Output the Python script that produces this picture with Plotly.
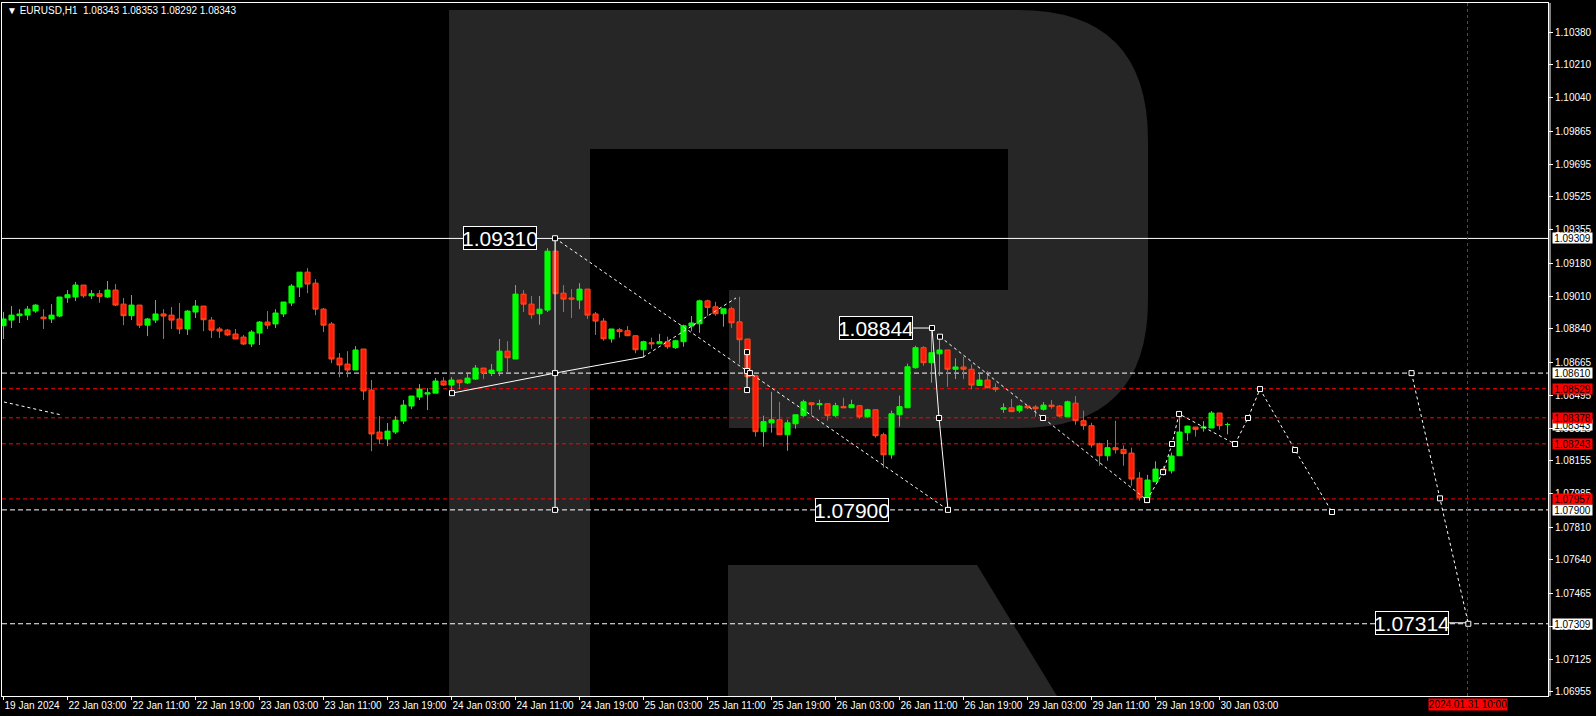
import plotly.graph_objects as go

# ---------------- data ----------------
BARS = list(range(154))  # H1 bars from 19 Jan 2024 19:00 to 30 Jan 2024 04:00

OPEN = [1.08856,1.08885,1.08908,1.08911,1.08932,1.08901,1.08891,1.08906,1.09001,1.09005,
        1.09067,1.09011,1.09022,1.09005,1.09041,1.08968,1.08908,1.08963,1.08859,1.08885,
        1.08917,1.08911,1.08891,1.08839,1.08927,1.08958,1.08885,1.08839,1.08833,1.08813,
        1.08797,1.08761,1.08818,1.08875,1.08865,1.08917,1.08974,1.09057,1.09134,1.09077,
        1.08942,1.08865,1.08688,1.08657,1.08626,1.08735,1.08522,1.08304,1.08268,1.08304,
        1.08361,1.08439,1.08486,1.08501,1.08506,1.08569,1.08548,1.08574,1.08559,1.08579,
        1.08636,1.08610,1.08621,1.08724,1.08683,1.09020,1.08968,1.08918,1.08937,1.09243,
        1.09025,1.09000,1.08989,1.09046,1.08917,1.08880,1.08788,1.08835,1.08830,1.08804,
        1.08731,1.08768,1.08762,1.08773,1.08742,1.08773,1.08854,1.08866,1.08985,1.08954,
        1.08918,1.08944,1.08876,1.08787,1.08596,1.08306,1.08352,1.08368,1.08290,1.08347,
        1.08389,1.08456,1.08446,1.08451,1.08389,1.08436,1.08430,1.08441,1.08383,1.08420,
        1.08290,1.08186,1.08394,1.08430,1.08638,1.08742,1.08664,1.08710,1.08730,1.08630,
        1.08642,1.08630,1.08546,1.08574,1.08534,1.08422,1.08430,1.08415,1.08439,1.08434,
        1.08422,1.08444,1.08439,1.08383,1.08454,1.08363,1.08337,1.08243,1.08181,1.08223,
        1.08214,1.08195,1.08065,1.07963,1.08046,1.08112,1.08103,1.08181,1.08301,1.08330,
        1.08325,1.08325,1.08403,1.08343]
HIGH = [1.08928,1.08958,1.08942,1.08958,1.08968,1.08942,1.08968,1.09005,1.09041,1.09083,
        1.09067,1.09041,1.09041,1.09088,1.09072,1.09000,1.09015,1.08963,1.08896,1.08989,
        1.08942,1.08953,1.08974,1.08937,1.08989,1.08958,1.08901,1.08849,1.08839,1.08839,
        1.08808,1.08833,1.08880,1.08932,1.08942,1.08979,1.09072,1.09134,1.09155,1.09098,
        1.08948,1.08875,1.08714,1.08724,1.08750,1.08735,1.08574,1.08387,1.08351,1.08387,
        1.08470,1.08491,1.08553,1.08532,1.08584,1.08589,1.08589,1.08574,1.08605,1.08652,
        1.08636,1.08657,1.08787,1.08776,1.09067,1.09041,1.09010,1.09010,1.09259,1.09310,
        1.09067,1.09046,1.09077,1.09046,1.08927,1.08896,1.08839,1.08845,1.08854,1.08804,
        1.08778,1.08794,1.08814,1.08799,1.08783,1.08861,1.08906,1.08991,1.08991,1.08980,
        1.08944,1.08954,1.09006,1.08787,1.08596,1.08389,1.08513,1.08461,1.08368,1.08394,
        1.08472,1.08456,1.08472,1.08451,1.08456,1.08482,1.08472,1.08441,1.08425,1.08420,
        1.08301,1.08415,1.08493,1.08659,1.08752,1.08750,1.08844,1.08799,1.08730,1.08687,
        1.08695,1.08655,1.08609,1.08621,1.08557,1.08453,1.08476,1.08444,1.08439,1.08444,
        1.08460,1.08470,1.08444,1.08467,1.08491,1.08415,1.08352,1.08249,1.08263,1.08363,
        1.08235,1.08223,1.08096,1.08082,1.08152,1.08127,1.08197,1.08389,1.08337,1.08330,
        1.08361,1.08413,1.08403,1.08353]
LOW = [1.08787,1.08844,1.08870,1.08885,1.08923,1.08839,1.08870,1.08901,1.08975,1.08984,
       1.09001,1.08994,1.08975,1.09001,1.08958,1.08859,1.08885,1.08844,1.08802,1.08870,
       1.08787,1.08839,1.08813,1.08808,1.08896,1.08828,1.08792,1.08792,1.08802,1.08787,
       1.08756,1.08745,1.08756,1.08839,1.08844,1.08901,1.08958,1.09005,1.09025,1.08911,
       1.08823,1.08662,1.08589,1.08589,1.08626,1.08470,1.08205,1.08242,1.08231,1.08294,
       1.08346,1.08423,1.08470,1.08418,1.08506,1.08543,1.08506,1.08527,1.08553,1.08574,
       1.08579,1.08595,1.08595,1.08615,1.08683,1.08927,1.08892,1.08861,1.08927,1.09022,
       1.08927,1.08896,1.08942,1.08891,1.08808,1.08778,1.08768,1.08794,1.08804,1.08713,
       1.08692,1.08736,1.08762,1.08736,1.08736,1.08747,1.08828,1.08819,1.08908,1.08908,
       1.08851,1.08845,1.08659,1.08585,1.08280,1.08228,1.08301,1.08290,1.08207,1.08321,
       1.08383,1.08394,1.08420,1.08363,1.08383,1.08430,1.08430,1.08373,1.08378,1.08275,
       1.08119,1.08166,1.08332,1.08430,1.08633,1.08648,1.08560,1.08595,1.08539,1.08579,
       1.08579,1.08526,1.08543,1.08531,1.08513,1.08404,1.08410,1.08404,1.08423,1.08383,
       1.08415,1.08425,1.08383,1.08383,1.08342,1.08316,1.08223,1.08129,1.08155,1.08192,
       1.08129,1.08025,1.07948,1.07948,1.08046,1.08077,1.08089,1.08181,1.08259,1.08280,
       1.08306,1.08325,1.08316,1.08292]
CLOSE = [1.08891,1.08911,1.08917,1.08942,1.08963,1.08892,1.08911,1.09005,1.09017,1.09067,
         1.09011,1.09022,1.09008,1.09041,1.08963,1.08908,1.08963,1.08859,1.08891,1.08917,
         1.08906,1.08885,1.08839,1.08932,1.08958,1.08887,1.08833,1.08828,1.08808,1.08787,
         1.08761,1.08823,1.08875,1.08859,1.08922,1.08979,1.09062,1.09134,1.09072,1.08942,
         1.08859,1.08683,1.08652,1.08626,1.08730,1.08517,1.08294,1.08268,1.08309,1.08366,
         1.08444,1.08491,1.08527,1.08508,1.08569,1.08548,1.08574,1.08560,1.08584,1.08636,
         1.08610,1.08626,1.08724,1.08690,1.09020,1.08968,1.08913,1.08942,1.09243,1.09022,
         1.08994,1.08994,1.09046,1.08911,1.08880,1.08788,1.08839,1.08825,1.08804,1.08731,
         1.08773,1.08762,1.08773,1.08747,1.08778,1.08856,1.08870,1.08985,1.08951,1.08918,
         1.08944,1.08871,1.08783,1.08591,1.08306,1.08358,1.08368,1.08290,1.08352,1.08394,
         1.08461,1.08446,1.08451,1.08389,1.08441,1.08430,1.08446,1.08383,1.08420,1.08285,
         1.08186,1.08399,1.08436,1.08643,1.08742,1.08664,1.08716,1.08730,1.08630,1.08642,
         1.08630,1.08548,1.08574,1.08534,1.08526,1.08430,1.08410,1.08439,1.08430,1.08425,
         1.08444,1.08436,1.08387,1.08461,1.08363,1.08337,1.08237,1.08181,1.08223,1.08212,
         1.08192,1.08060,1.07963,1.08055,1.08112,1.08103,1.08180,1.08304,1.08335,1.08318,
         1.08330,1.08403,1.08337,1.08343]

TIME_TICK_BARS = [0, 8, 16, 24, 32, 40, 48, 56, 64, 72, 80, 88, 96, 104, 112, 120, 128, 136, 144, 152]
TIME_TICK_TEXT = ["19 Jan 2024", "22 Jan 03:00", "22 Jan 11:00", "22 Jan 19:00", "23 Jan 03:00",
                  "23 Jan 11:00", "23 Jan 19:00", "24 Jan 03:00", "24 Jan 11:00", "24 Jan 19:00",
                  "25 Jan 03:00", "25 Jan 11:00", "25 Jan 19:00", "26 Jan 03:00", "26 Jan 11:00",
                  "26 Jan 19:00", "29 Jan 03:00", "29 Jan 11:00", "29 Jan 19:00", "30 Jan 03:00"]

PRICE_TICKS = [1.10380, 1.10210, 1.10040, 1.09865, 1.09695, 1.09525, 1.09355, 1.09180, 1.09010,
               1.08840, 1.08665, 1.08495, 1.08325, 1.08155, 1.07985, 1.07810, 1.07640, 1.07465,
               1.07295, 1.07125, 1.06955]

# horizontal levels
LEVEL_WHITE_SOLID = [1.09309]
LEVEL_WHITE_DASH = [1.08610, 1.07900, 1.07309]
LEVEL_RED_DASH = [1.08529, 1.08378, 1.08243, 1.07957]
AXIS_BOXES_WHITE = [1.09309, 1.08610, 1.08343, 1.07900, 1.07309]
AXIS_BOXES_RED = [1.08529, 1.08378, 1.08243, 1.07957]
FORECAST_TIME_BAR = 183
FORECAST_TIME_TEXT = "2024.01.31 10:00"

# analysis drawings (bar index, price)
LEFT_DOT_X = [0.06, 7.2]
LEFT_DOT_Y = [1.08460, 1.08393]
RISE_X = [56.06, 68.94, 79.94]
RISE_Y = [1.08506, 1.08610, 1.08693]
RISE_DOT_X = [79.94, 91.56]
RISE_DOT_Y = [1.08693, 1.09000]
VERT1_X = [68.94, 68.94, 68.94]
VERT1_Y = [1.09310, 1.08610, 1.07900]
FALL_DOT_X = [68.94, 93.3, 118.06]
FALL_DOT_Y = [1.09310, 1.08610, 1.07900]
VERT2_X = [92.94, 92.94, 92.94]
VERT2_Y = [1.08719, 1.08621, 1.08522]
DROP_X = [116.06, 116.94, 118.06]
DROP_Y = [1.08844, 1.08377, 1.07900]
FALL2_X = [117.06, 129.94, 142.94]
FALL2_Y = [1.08799, 1.08377, 1.07951]
REB_X = [142.94, 144.94, 146.06, 146.94, 153.94]
REB_Y = [1.07951, 1.08096, 1.08242, 1.08398, 1.08242]
FC1_X = [153.94, 155.56, 157.06, 161.44, 166.06]
FC1_Y = [1.08242, 1.08377, 1.08527, 1.08211, 1.07889]
FC2_X = [176.0, 179.56, 183.1]
FC2_Y = [1.08610, 1.07960, 1.07309]

BIG_LABELS = [("1.09310", 62.1, 1.09310), ("1.08844", 109.06, 1.08844),
              ("1.07900", 106.06, 1.07900), ("1.07314", 176.1, 1.07314)]
LABEL_LINKS = [([113.7, 116.06], [1.08844, 1.08844]), ([180.7, 183.1], [1.07314, 1.07314])]

HEADER = "\u25bc EURUSD,H1  1.08343 1.08353 1.08292 1.08343"

# ---------------- figure ----------------
W, H = 1596, 716
ML, MR, MT, MB = 2, 48, 3, 20
PW, PH = W - ML - MR, H - MT - MB
SMALL = "Liberation Sans, Arial, sans-serif"
BIG = "Liberation Sans, Arial, sans-serif"


def px(x):
    return (x - ML) / PW


def py(y):
    return 1 - (y - MT) / PH


fig = go.Figure()

fig.add_trace(go.Candlestick(
    x=BARS, open=OPEN, high=HIGH, low=LOW, close=CLOSE,
    increasing=dict(line=dict(color="#00FF00", width=1), fillcolor="#00FF00"),
    decreasing=dict(line=dict(color="#FF4A1A", width=1), fillcolor="#FF1A0A"),
    whiskerwidth=0, showlegend=False, hoverinfo="skip"))

DOT = "3px,3px"
solid_lines = [(RISE_X, RISE_Y), (VERT1_X, VERT1_Y), (VERT2_X, VERT2_Y), (DROP_X, DROP_Y)] + LABEL_LINKS
dotted_lines = [(LEFT_DOT_X, LEFT_DOT_Y), (RISE_DOT_X, RISE_DOT_Y), (FALL_DOT_X, FALL_DOT_Y),
                (FALL2_X, FALL2_Y), (REB_X, REB_Y), (FC1_X, FC1_Y), (FC2_X, FC2_Y)]
for xs, ys in solid_lines:
    fig.add_trace(go.Scatter(x=xs, y=ys, mode="lines", line=dict(color="white", width=1),
                             showlegend=False, hoverinfo="skip"))
for xs, ys in dotted_lines:
    fig.add_trace(go.Scatter(x=xs, y=ys, mode="lines", line=dict(color="white", width=1, dash=DOT),
                             showlegend=False, hoverinfo="skip"))

mk_x, mk_y = [], []
for xs, ys in [(VERT1_X, VERT1_Y), (VERT2_X, VERT2_Y), (DROP_X, DROP_Y), (FALL2_X, FALL2_Y),
               (REB_X, REB_Y), (FC1_X, FC1_Y), (FC2_X, FC2_Y), (RISE_X[:1], RISE_Y[:1]),
               (FALL_DOT_X[1:2], FALL_DOT_Y[1:2])]:
    mk_x += list(xs)
    mk_y += list(ys)
fig.add_trace(go.Scatter(x=mk_x, y=mk_y, mode="markers",
                         marker=dict(symbol="square", size=5, color="black",
                                     line=dict(color="white", width=1)),
                         showlegend=False, hoverinfo="skip"))

shapes = []
# R watermark (decoration, pixel outline mapped to paper space)
path = (f"M{px(449)},{py(10)} L{px(1018)},{py(10)} Q{px(1148)},{py(10)} {px(1148)},{py(140)} "
        f"L{px(1148)},{py(300)} Q{px(1148)},{py(428)} {px(1020)},{py(428)} L{px(729)},{py(428)} "
        f"L{px(729)},{py(290)} L{px(1008)},{py(290)} L{px(1008)},{py(149)} L{px(590)},{py(149)} "
        f"L{px(590)},{py(696)} L{px(449)},{py(696)} Z")
shapes.append(dict(type="path", xref="paper", yref="paper", path=path,
                   fillcolor="#262626", line=dict(width=0), layer="below"))
leg = (f"M{px(728)},{py(565)} L{px(977)},{py(565)} L{px(1057)},{py(696)} L{px(728)},{py(696)} Z")
shapes.append(dict(type="path", xref="paper", yref="paper", path=leg,
                   fillcolor="#262626", line=dict(width=0), layer="below"))

for v in LEVEL_WHITE_SOLID:
    shapes.append(dict(type="line", xref="paper", x0=0, x1=1, yref="y", y0=v, y1=v,
                       line=dict(color="white", width=1), layer="below"))
for v in LEVEL_WHITE_DASH:
    shapes.append(dict(type="line", xref="paper", x0=0, x1=1, yref="y", y0=v, y1=v,
                       line=dict(color="white", width=1, dash="5px,3px"), layer="below"))
for v in LEVEL_RED_DASH:
    shapes.append(dict(type="line", xref="paper", x0=0, x1=1, yref="y", y0=v, y1=v,
                       line=dict(color="#FF0000", width=1, dash="4px,3px"), layer="below"))
shapes.append(dict(type="line", xref="x", x0=FORECAST_TIME_BAR, x1=FORECAST_TIME_BAR,
                   yref="paper", y0=0, y1=1, line=dict(color="#FF0000", width=1, dash="3px,3px"),
                   layer="below"))
# second axis rule just right of the frame
shapes.append(dict(type="line", xref="paper", yref="paper",
                   x0=1 + 2 / PW, x1=1 + 2 / PW, y0=0, y1=1, line=dict(color="white", width=1)))

annotations = []
for txt, xb, yv in BIG_LABELS:
    annotations.append(dict(x=xb, y=yv, xref="x", yref="y", text=txt, showarrow=False,
                            font=dict(color="white", size=21, family=BIG),
                            bgcolor="black", bordercolor="white", borderwidth=1, borderpad=0,
                            width=72, height=22))
for v in AXIS_BOXES_WHITE:
    annotations.append(dict(x=1, y=v, xref="paper", yref="y", xanchor="left", xshift=4,
                            text=f"{v:.5f}", showarrow=False,
                            font=dict(color="black", size=10, family=SMALL),
                            bgcolor="white", borderpad=0, width=39, height=10))
for v in AXIS_BOXES_RED:
    annotations.append(dict(x=1, y=v, xref="paper", yref="y", xanchor="left", xshift=4,
                            text=f"{v:.5f}", showarrow=False,
                            font=dict(color="black", size=10, family=SMALL),
                            bgcolor="#FF0000", borderpad=0, width=39, height=10))
annotations.append(dict(x=FORECAST_TIME_BAR, y=0, xref="x", yref="paper", yanchor="top", yshift=-2,
                        text=FORECAST_TIME_TEXT, showarrow=False,
                        font=dict(color="black", size=10, family=SMALL),
                        bgcolor="#FF0000", borderpad=0, width=78, height=11))
annotations.append(dict(x=0, y=1, xref="paper", yref="paper", xanchor="left", yanchor="top",
                        xshift=3, yshift=0, text=HEADER, showarrow=False,
                        font=dict(color="white", size=10, family=SMALL)))

fig.update_layout(
    width=W, height=H, margin=dict(l=ML, r=MR, t=MT, b=MB, autoexpand=False),
    paper_bgcolor="black", plot_bgcolor="black",
    showlegend=False, shapes=shapes, annotations=annotations,
    boxgap=0.2, boxgroupgap=0.2,
    xaxis=dict(range=[-0.19, 193.06], showgrid=False, zeroline=False,
               showline=True, linecolor="white", linewidth=1, mirror=True,
               ticks="outside", ticklen=3, tickcolor="white", tickangle=0, automargin=False,
               tickvals=TIME_TICK_BARS, ticktext=TIME_TICK_TEXT,
               ticklabelposition="outside right",
               tickfont=dict(color="white", size=10, family=SMALL),
               rangeslider=dict(visible=False), fixedrange=True),
    yaxis=dict(side="right", range=[1.06934, 1.10531], showgrid=False, zeroline=False,
               showline=True, linecolor="white", linewidth=1, mirror=True, automargin=False,
               ticks="outside", ticklen=4, tickcolor="white",
               tickvals=PRICE_TICKS, ticktext=[f"{v:.5f}" for v in PRICE_TICKS],
               tickfont=dict(color="white", size=10, family=SMALL), fixedrange=True),
)

fig.write_html("out.html", config={"displayModeBar": False},
               post_script="document.body.style.margin='0';document.body.style.padding='0';"
                           "document.body.style.overflow='hidden';")
